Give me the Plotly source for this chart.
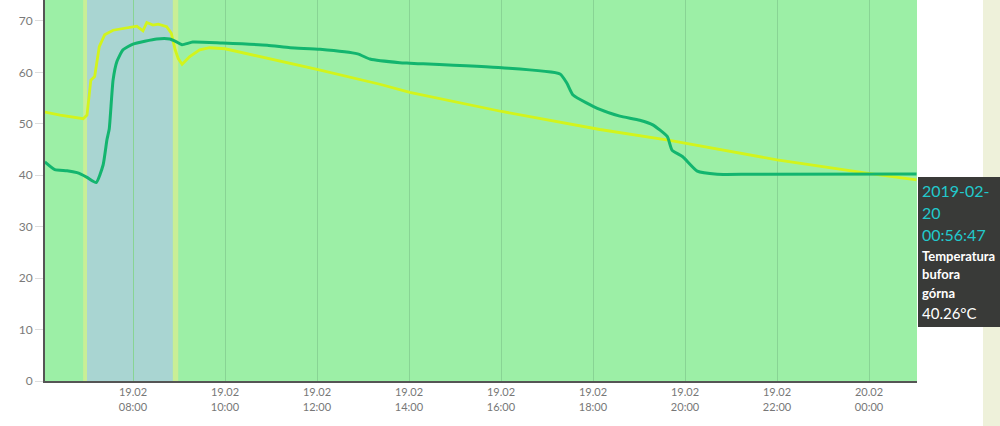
import plotly.graph_objects as go

# ---- data ----
yellow_t = ["2019-02-19 06:05", "2019-02-19 06:25", "2019-02-19 06:55", "2019-02-19 07:00",
            "2019-02-19 07:05", "2019-02-19 07:10", "2019-02-19 07:16", "2019-02-19 07:23",
            "2019-02-19 07:34", "2019-02-19 07:52", "2019-02-19 08:05", "2019-02-19 08:13",
            "2019-02-19 08:18", "2019-02-19 08:26", "2019-02-19 08:33", "2019-02-19 08:44",
            "2019-02-19 08:50", "2019-02-19 08:55", "2019-02-19 08:59", "2019-02-19 09:04",
            "2019-02-19 09:14", "2019-02-19 09:27", "2019-02-19 09:40", "2019-02-19 10:00",
            "2019-02-19 10:37", "2019-02-19 12:00", "2019-02-19 13:22", "2019-02-19 14:01",
            "2019-02-19 16:01", "2019-02-19 18:09", "2019-02-19 19:40", "2019-02-19 21:25",
            "2019-02-19 22:00", "2019-02-19 23:57", "2019-02-20 01:02"]
yellow_v = [52.3, 51.7, 51.0, 51.7, 58.5, 59.2, 65.0, 67.3, 68.2, 68.6, 69.0, 68.1,
            69.7, 69.2, 69.4, 68.9, 67.6, 64.4, 62.7, 61.6, 63.1, 64.4, 64.8, 64.6,
            63.4, 60.6, 57.7, 56.1, 52.4, 48.9, 46.8, 43.9, 43.0, 40.4, 39.1]

green_t = ["2019-02-19 06:05", "2019-02-19 06:18", "2019-02-19 06:34", "2019-02-19 06:47",
           "2019-02-19 07:00", "2019-02-19 07:12", "2019-02-19 07:21", "2019-02-19 07:26",
           "2019-02-19 07:29", "2019-02-19 07:34", "2019-02-19 07:39", "2019-02-19 07:47",
           "2019-02-19 08:00", "2019-02-19 08:31", "2019-02-19 08:48", "2019-02-19 08:56",
           "2019-02-19 09:04", "2019-02-19 09:18", "2019-02-19 09:57", "2019-02-19 10:55",
           "2019-02-19 11:25", "2019-02-19 12:04", "2019-02-19 12:53", "2019-02-19 13:09",
           "2019-02-19 13:48", "2019-02-19 14:01", "2019-02-19 16:01", "2019-02-19 17:17",
           "2019-02-19 17:26", "2019-02-19 17:34", "2019-02-19 18:09", "2019-02-19 18:35",
           "2019-02-19 19:01", "2019-02-19 19:18", "2019-02-19 19:37", "2019-02-19 19:43",
           "2019-02-19 19:57", "2019-02-19 20:16", "2019-02-19 20:42", "2019-02-19 21:25",
           "2019-02-20 01:02"]
green_v = [42.6, 41.1, 40.9, 40.5, 39.6, 38.6, 42.0, 46.9, 49.0, 58.5, 62.1, 64.4,
           65.5, 66.5, 66.5, 66.0, 65.4, 65.9, 65.7, 65.3, 64.8, 64.5, 63.6, 62.6,
           61.9, 61.8, 60.9, 59.7, 57.9, 55.6, 52.8, 51.5, 50.7, 49.8, 47.5, 44.9,
           43.6, 40.8, 40.2, 40.2, 40.26]

tick_vals = ["2019-02-19 08:00", "2019-02-19 10:00", "2019-02-19 12:00", "2019-02-19 14:00",
             "2019-02-19 16:00", "2019-02-19 18:00", "2019-02-19 20:00", "2019-02-19 22:00",
             "2019-02-20 00:00"]
tick_text = ["19.02<br>08:00", "19.02<br>10:00", "19.02<br>12:00", "19.02<br>14:00",
             "19.02<br>16:00", "19.02<br>18:00", "19.02<br>20:00", "19.02<br>22:00",
             "20.02<br>00:00"]

band_blue = ("2019-02-19 07:00", "2019-02-19 08:52")
band_edges = [("2019-02-19 06:55", "2019-02-19 07:00"), ("2019-02-19 08:52", "2019-02-19 08:59")]

x_range = ["2019-02-19 06:05:13", "2019-02-20 01:02:36"]

FONT = "Lato, 'Open Sans', sans-serif"

fig = go.Figure()
fig.add_trace(go.Scatter(x=yellow_t, y=yellow_v, mode="lines",
                         line=dict(color="#d2f41c", width=2.8), showlegend=False,
                         hoverinfo="skip"))
fig.add_trace(go.Scatter(x=green_t, y=green_v, mode="lines",
                         line=dict(color="#13b56f", width=3, shape="spline", smoothing=0.5),
                         showlegend=False, hoverinfo="skip"))

shapes = []
shapes.append(dict(type="rect", xref="x", yref="paper", x0=band_blue[0], x1=band_blue[1],
                   y0=0, y1=1, fillcolor="#a9d5d2", line_width=0, layer="below"))
for a, b in band_edges:
    shapes.append(dict(type="rect", xref="x", yref="paper", x0=a, x1=b, y0=0, y1=1,
                       fillcolor="#c9ee96", line_width=0, layer="below"))

W, L, R, B, H = 1000, 45, 83, 45, 426
pw = W - L - R
ph = H - B

def px_x(p):
    return (p - L) / pw

def px_y(p):
    return (ph - p) / ph

# page background strip on the right
shapes.append(dict(type="rect", xref="paper", yref="paper", x0=px_x(983), x1=px_x(1010),
                   y0=px_y(430), y1=px_y(-5), fillcolor="#eef1da", line_width=0, layer="below"))
# tooltip box
shapes.append(dict(type="rect", xref="paper", yref="paper", x0=px_x(918), x1=px_x(1010),
                   y0=px_y(327), y1=px_y(177), fillcolor="#393a38", line_width=0, layer="above"))

annotations = []
tip_lines = [("2019-02-", 190, "#22c9cc", 16, False),
             ("20", 212, "#22c9cc", 16, False),
             ("00:56:47", 234, "#22c9cc", 16, False),
             ("Temperatura", 256, "#ffffff", 13, True),
             ("bufora", 274, "#ffffff", 13, True),
             ("górna", 293, "#ffffff", 13, True),
             ("40.26°C", 313, "#ffffff", 15, False)]
for txt, yc, col, sz, bold in tip_lines:
    annotations.append(dict(xref="paper", yref="paper", x=px_x(920), y=px_y(yc),
                            xanchor="left", yanchor="middle", showarrow=False,
                            text=f"<b>{txt}</b>" if bold else txt,
                            font=dict(family=FONT, size=sz, color=col)))

fig.update_layout(
    width=W, height=H,
    margin=dict(l=L, r=R, t=0, b=B),
    paper_bgcolor="#ffffff",
    plot_bgcolor="#9cefa6",
    shapes=shapes,
    annotations=annotations,
    font=dict(family=FONT, color="#7a7a7a"),
    xaxis=dict(range=x_range, tickvals=tick_vals, ticktext=tick_text,
               showgrid=True, gridcolor="#88d494", gridwidth=1,
               showline=True, linecolor="#555555", linewidth=2,
               ticks="", tickfont=dict(size=11, color="#777777"), zeroline=False),
    yaxis=dict(range=[0, 74.08], tickvals=[0, 10, 20, 30, 40, 50, 60, 70],
               showgrid=False, showline=True, linecolor="#555555", linewidth=2,
               ticks="outside", ticklen=8, tickcolor="#dddddd",
               tickfont=dict(size=12, color="#7a7a7a"), zeroline=False),
)

fig.write_html("out.html", config={"displayModeBar": False},
               post_script="document.body.style.margin='0';document.body.style.overflow='hidden';")
